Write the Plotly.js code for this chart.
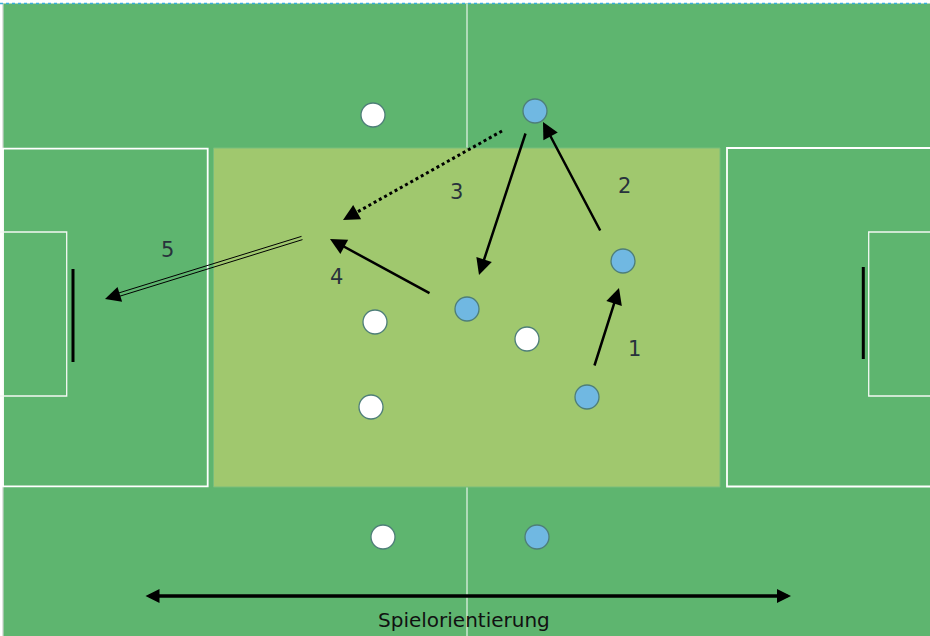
<!DOCTYPE html>
<html>
<head>
<meta charset="utf-8">
<script src="https://cdn.plot.ly/plotly-3.0.1.min.js"></script>
<style>html,body{margin:0;padding:0;background:#fff;}#chart{width:930px;height:636px;}</style>
</head>
<body>
<div id="chart"></div>
<script>
// ---- data (diagram units) ----
const whiteX = [373, 375, 371, 527, 383];
const whiteY = [115, 322, 407, 339, 537];
const blueX  = [535, 623, 467, 587, 537];
const blueY  = [111, 261, 309, 397, 537];

// passes / runs
const solidFromX = [594, 601, 526, 431];
const solidFromY = [367, 232, 132, 294];
const solidToX   = [619, 543, 479, 330];
const solidToY   = [288, 122, 275, 239];
const dottedFrom = [502, 131];
const dottedTo   = [343, 220];
const doubleFrom = [302, 238];
const doubleTo   = [105, 299];

const stepLabels = ['1', '2', '3', '4', '5'];
const stepLabelX = [634, 624, 456, 336, 167];
const stepLabelY = [349, 186, 192, 277, 250];

const orientFrom = [144, 596];
const orientTo   = [791, 596];
const orientText = 'Spielorientierung';
const orientTextPos = [464, 620];

// pitch markings
const halfwayX = 467;
const zoneBox = [213.5, 148, 720, 487];
const leftBox = [3, 148.7, 207.7, 486.3];
const rightBox = [727, 148, 940, 486.5];
const leftGoalBox = [-5, 232, 66.7, 396];
const rightGoalBox = [868.7, 232, 940, 396];
const leftGoal = [73, 269, 362];
const rightGoal = [863.3, 267, 359];

// ---- colours ----
const GREEN = '#5EB56F', ZONE = '#A0C86E', BLUE = '#70B8E2', EDGE = '#4E7E78', INK = '#28323C';

const shapes = [];
function rect(b, fill, color, w) {
  shapes.push({type:'rect', xref:'x', yref:'y', x0:b[0], y0:b[1], x1:b[2], y1:b[3],
    fillcolor: fill, line:{color:color, width:w}, layer:'below'});
}
function line(x0, y0, x1, y1, color, w, dash) {
  shapes.push({type:'line', xref:'x', yref:'y', x0:x0, y0:y0, x1:x1, y1:y1,
    line:{color:color, width:w, dash: dash || 'solid'}, layer:'below'});
}
// border strips
rect([0, 0, 930, 3.5], '#ffffff', 'rgba(0,0,0,0)', 0);
rect([0, 0, 3, 636], '#ffffff', 'rgba(0,0,0,0)', 0);
line(3, 3.5, 3, 636, '#C9D3CB', 1.2);
line(0, 3.5, 930, 3.5, '#3AAEDC', 1.5, 'dot');
// halfway line
line(halfwayX, 4, halfwayX, 636, 'rgba(255,255,255,0.85)', 1.2);
// zone
rect(zoneBox, ZONE, '#78BE7C', 1);
// boxes
rect(leftBox, 'rgba(0,0,0,0)', '#FFFFFF', 1.8);
rect(rightBox, 'rgba(0,0,0,0)', '#FFFFFF', 1.8);
rect(leftGoalBox, 'rgba(0,0,0,0)', '#F4F8F4', 1.3);
rect(rightGoalBox, 'rgba(0,0,0,0)', '#F4F8F4', 1.3);
// goals
line(leftGoal[0], leftGoal[1], leftGoal[0], leftGoal[2], '#000', 3);
line(rightGoal[0], rightGoal[1], rightGoal[0], rightGoal[2], '#000', 3);

const annotations = [];
function arrow(fx, fy, tx, ty, w, size, head, side) {
  annotations.push({x:tx, y:ty, ax:fx, ay:fy, xref:'x', yref:'y', axref:'x', ayref:'y',
    text:'', showarrow:true, arrowhead:head, startarrowhead:head, arrowside: side || 'end',
    arrowsize:size, startarrowsize:size, arrowwidth:w, arrowcolor:'#000'});
}
for (let i = 0; i < solidFromX.length; i++) {
  arrow(solidFromX[i], solidFromY[i], solidToX[i], solidToY[i], 2.5, 1.3, 2);
}
// dotted arrow
(function(){
  const dx = dottedTo[0]-dottedFrom[0], dy = dottedTo[1]-dottedFrom[1];
  const L = Math.hypot(dx, dy), ux = dx/L, uy = dy/L;
  line(dottedFrom[0], dottedFrom[1], dottedTo[0]-ux*10, dottedTo[1]-uy*10, '#000', 3, 'dot');
  arrow(dottedTo[0]-ux*14, dottedTo[1]-uy*14, dottedTo[0], dottedTo[1], 2.5, 1.3, 2);
})();
// double-line arrow
(function(){
  const dx = doubleTo[0]-doubleFrom[0], dy = doubleTo[1]-doubleFrom[1];
  const L = Math.hypot(dx, dy), ux = dx/L, uy = dy/L, px = -uy*1.7, py = ux*1.7;
  const ex = doubleTo[0]-ux*10, ey = doubleTo[1]-uy*10;
  line(doubleFrom[0]+px, doubleFrom[1]+py, ex+px, ey+py, '#000', 1);
  line(doubleFrom[0]-px, doubleFrom[1]-py, ex-px, ey-py, '#000', 1);
  arrow(doubleTo[0]-ux*14, doubleTo[1]-uy*14, doubleTo[0], doubleTo[1], 1, 3.1, 2);
})();
// orientation arrow
arrow(orientFrom[0], orientFrom[1], orientTo[0], orientTo[1], 3.5, 0.8, 2, 'end+start');

for (let i = 0; i < stepLabels.length; i++) {
  annotations.push({x:stepLabelX[i], y:stepLabelY[i], xref:'x', yref:'y', text:stepLabels[i],
    showarrow:false, font:{family:'DejaVu Sans, Verdana, sans-serif', size:21, color:INK}});
}
annotations.push({x:orientTextPos[0], y:orientTextPos[1], xref:'x', yref:'y', text:orientText,
  showarrow:false, font:{family:'DejaVu Sans, Verdana, sans-serif', size:20, color:'#111'}});

const traces = [
  {type:'scatter', mode:'markers', x:whiteX, y:whiteY, name:'Weiß', hoverinfo:'skip',
   marker:{size:24, color:'#FFFFFF', line:{color:EDGE, width:1.3}}},
  {type:'scatter', mode:'markers', x:blueX, y:blueY, name:'Blau', hoverinfo:'skip',
   marker:{size:24, color:BLUE, line:{color:EDGE, width:1.3}}}
];

const layout = {
  width:930, height:636,
  margin:{l:0, r:0, t:0, b:0, pad:0},
  paper_bgcolor:'#FFFFFF', plot_bgcolor:GREEN,
  showlegend:false,
  xaxis:{range:[0,930], visible:false, fixedrange:true},
  yaxis:{range:[636,0], visible:false, fixedrange:true},
  shapes:shapes, annotations:annotations
};
Plotly.newPlot('chart', traces, layout, {staticPlot:true, displayModeBar:false});
</script>
</body>
</html>
